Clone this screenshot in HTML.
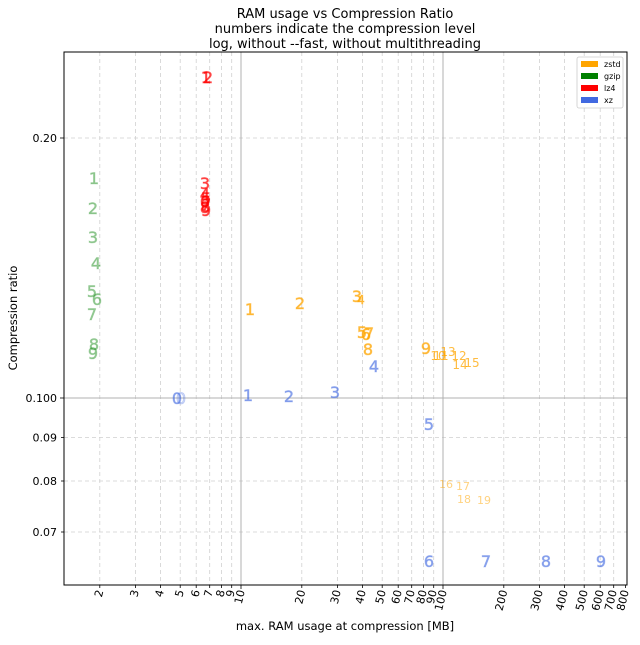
<!DOCTYPE html>
<html><head><meta charset="utf-8"><style>body{margin:0;background:#fff}</style></head><body>
<svg width="640" height="640" xmlns="http://www.w3.org/2000/svg" font-family="DejaVu Sans, Liberation Sans, sans-serif">
<rect width="640" height="640" fill="#fff"/>
<g stroke="#d0d0d0" stroke-dasharray="4,3" stroke-width="0.8">
<line x1="99.8" y1="52" x2="99.8" y2="585"/><line x1="135.4" y1="52" x2="135.4" y2="585"/><line x1="160.6" y1="52" x2="160.6" y2="585"/><line x1="180.2" y1="52" x2="180.2" y2="585"/><line x1="196.2" y1="52" x2="196.2" y2="585"/><line x1="209.7" y1="52" x2="209.7" y2="585"/><line x1="221.4" y1="52" x2="221.4" y2="585"/><line x1="231.7" y1="52" x2="231.7" y2="585"/>
<line x1="301.8" y1="52" x2="301.8" y2="585"/><line x1="337.4" y1="52" x2="337.4" y2="585"/><line x1="362.6" y1="52" x2="362.6" y2="585"/><line x1="382.2" y1="52" x2="382.2" y2="585"/><line x1="398.2" y1="52" x2="398.2" y2="585"/><line x1="411.7" y1="52" x2="411.7" y2="585"/><line x1="423.4" y1="52" x2="423.4" y2="585"/><line x1="433.7" y1="52" x2="433.7" y2="585"/>
<line x1="503.8" y1="52" x2="503.8" y2="585"/><line x1="539.4" y1="52" x2="539.4" y2="585"/><line x1="564.6" y1="52" x2="564.6" y2="585"/><line x1="584.2" y1="52" x2="584.2" y2="585"/><line x1="600.2" y1="52" x2="600.2" y2="585"/><line x1="613.7" y1="52" x2="613.7" y2="585"/>
<line x1="64" y1="138" x2="627" y2="138"/><line x1="64" y1="437.5" x2="627" y2="437.5"/><line x1="64" y1="481" x2="627" y2="481"/><line x1="64" y1="532" x2="627" y2="532"/>
</g>
<g stroke="#b0b0b0" stroke-width="1">
<line x1="241" y1="52" x2="241" y2="585"/><line x1="443" y1="52" x2="443" y2="585"/><line x1="64" y1="398" x2="627" y2="398"/>
</g>
<rect x="64" y="52" width="563" height="533" fill="none" stroke="#000" stroke-width="1"/>
<g stroke="#000" stroke-width="0.8">
<line x1="99.8" y1="585" x2="99.8" y2="588"/><line x1="135.4" y1="585" x2="135.4" y2="588"/><line x1="160.6" y1="585" x2="160.6" y2="588"/><line x1="180.2" y1="585" x2="180.2" y2="588"/><line x1="196.2" y1="585" x2="196.2" y2="588"/><line x1="209.7" y1="585" x2="209.7" y2="588"/><line x1="221.4" y1="585" x2="221.4" y2="588"/><line x1="231.7" y1="585" x2="231.7" y2="588"/><line x1="241" y1="585" x2="241" y2="589"/>
<line x1="301.8" y1="585" x2="301.8" y2="588"/><line x1="337.4" y1="585" x2="337.4" y2="588"/><line x1="362.6" y1="585" x2="362.6" y2="588"/><line x1="382.2" y1="585" x2="382.2" y2="588"/><line x1="398.2" y1="585" x2="398.2" y2="588"/><line x1="411.7" y1="585" x2="411.7" y2="588"/><line x1="423.4" y1="585" x2="423.4" y2="588"/><line x1="433.7" y1="585" x2="433.7" y2="588"/><line x1="443" y1="585" x2="443" y2="589"/>
<line x1="503.8" y1="585" x2="503.8" y2="588"/><line x1="539.4" y1="585" x2="539.4" y2="588"/><line x1="564.6" y1="585" x2="564.6" y2="588"/><line x1="584.2" y1="585" x2="584.2" y2="588"/><line x1="600.2" y1="585" x2="600.2" y2="588"/><line x1="613.7" y1="585" x2="613.7" y2="588"/><line x1="625.4" y1="585" x2="625.4" y2="588"/>
<line x1="60" y1="138" x2="64" y2="138"/><line x1="60" y1="398" x2="64" y2="398"/><line x1="61" y1="437.5" x2="64" y2="437.5"/><line x1="61" y1="481" x2="64" y2="481"/><line x1="61" y1="532" x2="64" y2="532"/>
</g>
<g font-size="11" fill="#000" text-anchor="end">
<text transform="translate(103.5,591) rotate(-76)">2</text><text transform="translate(139,591) rotate(-76)">3</text><text transform="translate(164,591) rotate(-76)">4</text><text transform="translate(184,591) rotate(-76)">5</text><text transform="translate(200,591) rotate(-76)">6</text><text transform="translate(213,591) rotate(-76)">7</text><text transform="translate(225,591) rotate(-76)">8</text><text transform="translate(235,591) rotate(-76)">9</text><text transform="translate(245,591) rotate(-76)">10</text>
<text transform="translate(305.5,591) rotate(-76)">20</text><text transform="translate(341,591) rotate(-76)">30</text><text transform="translate(366,591) rotate(-76)">40</text><text transform="translate(386,591) rotate(-76)">50</text><text transform="translate(402,591) rotate(-76)">60</text><text transform="translate(415,591) rotate(-76)">70</text><text transform="translate(427,591) rotate(-76)">80</text><text transform="translate(437,591) rotate(-76)">90</text><text transform="translate(447,591) rotate(-76)">100</text>
<text transform="translate(507.5,591) rotate(-76)">200</text><text transform="translate(543,591) rotate(-76)">300</text><text transform="translate(568,591) rotate(-76)">400</text><text transform="translate(588,591) rotate(-76)">500</text><text transform="translate(604,591) rotate(-76)">600</text><text transform="translate(617,591) rotate(-76)">700</text><text transform="translate(629,591) rotate(-76)">800</text>
<text x="57" y="142">0.20</text><text x="57" y="402">0.100</text><text x="57" y="441.5">0.09</text><text x="57" y="485">0.08</text><text x="57" y="536">0.07</text>
</g>
<text x="345" y="630" font-size="11.5" text-anchor="middle">max. RAM usage at compression [MB]</text>
<text transform="translate(17,318) rotate(-90)" font-size="11.5" text-anchor="middle">Compression ratio</text>
<g font-size="13" text-anchor="middle"><text x="345" y="18">RAM usage vs Compression Ratio</text><text x="345" y="33">numbers indicate the compression level</text><text x="345" y="48">log, without --fast, without multithreading</text></g>
<g font-size="16" fill="green" fill-opacity="0.4" stroke="green" stroke-opacity="0.2" stroke-width="0.8" text-anchor="middle">
<text x="94" y="184">1</text><text x="93" y="214">2</text><text x="93" y="243">3</text><text x="96" y="269">4</text><text x="92" y="297">5</text><text x="97" y="305">6</text><text x="92" y="320">7</text><text x="94" y="350">8</text><text x="93" y="359">9</text>
</g>
<g font-size="16" fill="red" fill-opacity="0.7" stroke="red" stroke-opacity="0.4" stroke-width="0.8" text-anchor="middle">
<text x="206" y="83">1</text><text x="208" y="83">2</text><text x="205" y="189">3</text><text x="205" y="200">4</text><text x="206" y="204">5</text><text x="205" y="207">6</text><text x="206" y="210">7</text><text x="205" y="213">8</text><text x="206" y="216">9</text>
</g>
<g font-size="16" fill="orange" fill-opacity="0.75" stroke="orange" stroke-opacity="0.4" stroke-width="0.8" text-anchor="middle">
<text x="250" y="315">1</text><text x="300" y="309">2</text><text x="357" y="302">3</text><text x="361" y="304" font-size="12">4</text><text x="362" y="338">5</text><text x="366" y="340">6</text><text x="369" y="339">7</text><text x="368" y="355">8</text><text x="426" y="354">9</text>
</g>
<g font-size="12" fill="orange" fill-opacity="0.75" text-anchor="middle">
<text x="438" y="360">10</text><text x="441" y="360">11</text><text x="448" y="356">13</text><text x="459" y="360">12</text><text x="460" y="369">14</text><text x="472" y="367">15</text>
</g>
<g font-size="11" fill="orange" fill-opacity="0.5" text-anchor="middle">
<text x="446" y="488">16</text><text x="463" y="490">17</text><text x="464" y="503">18</text><text x="484" y="504">19</text>
</g>
<g font-size="16" fill="royalblue" fill-opacity="0.6" stroke="royalblue" stroke-opacity="0.3" stroke-width="0.8" text-anchor="middle">
<text x="177" y="404">0</text><text x="181" y="404" fill-opacity="0.2">0</text><text x="248" y="401">1</text><text x="289" y="402">2</text><text x="335" y="398">3</text><text x="374" y="372">4</text><text x="429" y="430">5</text><text x="429" y="567">6</text><text x="486" y="567">7</text><text x="546" y="567">8</text><text x="601" y="567">9</text>
</g>
<rect x="577" y="57" width="46" height="51" rx="2" fill="#fff" stroke="#ccc" stroke-width="0.8"/>
<rect x="581" y="61" width="17" height="6" fill="orange"/><rect x="581" y="73" width="17" height="6" fill="green"/><rect x="581" y="85" width="17" height="6" fill="red"/><rect x="581" y="97" width="17" height="6" fill="royalblue"/>
<g font-size="8"><text x="604" y="67">zstd</text><text x="604" y="79">gzip</text><text x="604" y="91">lz4</text><text x="604" y="103">xz</text></g>
</svg>
</body></html>
